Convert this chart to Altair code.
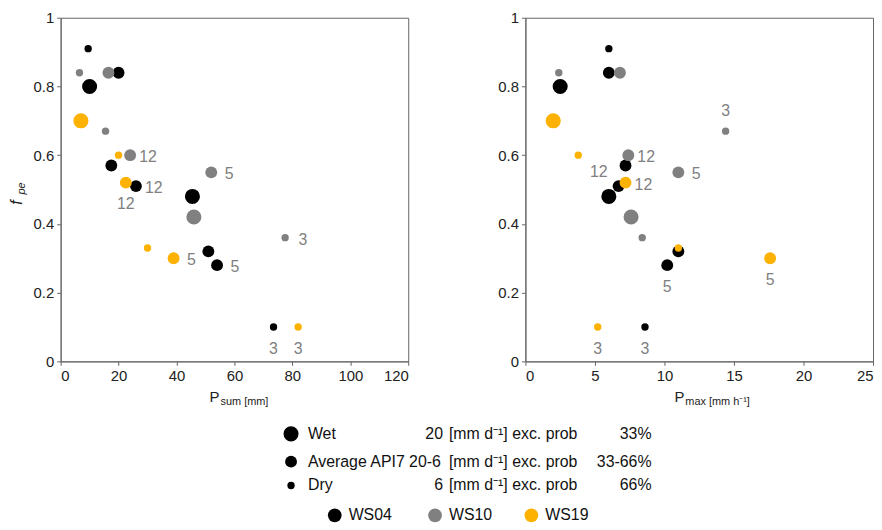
import altair as alt
import pandas as pd

# one row per event
station = ["WS04"] * 9 + ["WS10"] * 7 + ["WS19"] * 6
size_class = ["Dry", "Average", "Wet", "Average", "Average", "Wet", "Average", "Average", "Dry",
              "Dry", "Average", "Dry", "Average", "Average", "Wet", "Dry",
              "Wet", "Dry", "Average", "Dry", "Average", "Dry"]
fpe = [0.91, 0.84, 0.80, 0.57, 0.51, 0.48, 0.32, 0.28, 0.10,
       0.84, 0.84, 0.67, 0.60, 0.55, 0.42, 0.36,
       0.70, 0.60, 0.52, 0.33, 0.30, 0.10]
p_sum = [9.5, 20.0, 10.0, 17.5, 26.0, 45.5, 51.0, 54.0, 73.5,
         6.5, 16.5, 15.5, 24.0, 52.0, 46.0, 77.5,
         7.0, 20.0, 22.5, 30.0, 39.0, 82.0]
p_max = [6.0, 6.0, 2.5, 7.2, 6.7, 6.0, 11.0, 10.2, 8.6,
         2.4, 6.8, 14.4, 7.4, 11.0, 7.6, 8.4,
         2.0, 3.8, 7.2, 11.0, 17.6, 5.2]
# event labels and where they sit in each panel
label = ["", "", "", "", "12", "", "", "5", "3",
         "", "", "", "12", "5", "", "3",
         "", "", "12", "", "5", "3"]
place_sum = ["", "", "", "", "right", "", "", "right", "below",
             "", "", "", "right", "right", "", "right",
             "", "", "below", "", "right", "below"]
place_max = ["", "", "", "", "upleft", "", "", "below", "below",
             "", "", "above", "right", "right", "", "",
             "", "", "right", "", "below", "below"]
label_max = ["", "", "", "", "12", "", "", "5", "3",
             "", "", "3", "12", "5", "", "",
             "", "", "12", "", "5", "3"]

df = pd.DataFrame({"station": station, "cls": size_class, "fpe": fpe,
                   "psum": p_sum, "pmax": p_max, "label": label, "label_max": label_max,
                   "place_sum": place_sum, "place_max": place_max})

FONT = "Liberation Sans"
colors = alt.Scale(domain=["WS04", "WS10", "WS19"], range=["#000000", "#808080", "#FDB100"])
sizes = alt.Scale(domain=["Dry", "Average", "Wet"], range=[55, 230, 420])
offsets = {"right": (18, 2), "below": (0, 22), "upleft": (-20, -14), "above": (0, -20)}


def panel(xfield, xmax, xticks, sub, lab_field, place_field, ytitle):
    base = alt.Chart(df)
    pts = base.mark_circle(opacity=1).encode(
        x=alt.X(f"{xfield}:Q", scale=alt.Scale(domain=[0, xmax], nice=False),
                axis=alt.Axis(values=xticks, title=None, grid=False)),
        y=alt.Y("fpe:Q", scale=alt.Scale(domain=[0, 1], nice=False),
                axis=alt.Axis(values=[0, 0.2, 0.4, 0.6, 0.8, 1], title=None, grid=False,
                              labelExpr="datum.value == 0 ? '0' : datum.value == 1 ? '1' : format(datum.value, '.1f')")),
        color=alt.Color("station:N", scale=colors, legend=None),
        size=alt.Size("cls:N", scale=sizes, legend=None),
    )
    layers = [pts]
    for p, (dx, dy) in offsets.items():
        layers.append(base.transform_filter(alt.datum[place_field] == p).mark_text(
            dx=dx, dy=dy, fontSize=16, color="#808080", font=FONT).encode(
            x=f"{xfield}:Q", y="fpe:Q", text=f"{lab_field}:N"))
    layers.append(alt.Chart(pd.DataFrame({"t": ["P"]})).mark_text(
        fontSize=15, font=FONT, align="right", color="#222").encode(
        x=alt.value(160), y=alt.value(382), text="t:N"))
    layers.append(alt.Chart(pd.DataFrame({"t": [sub]})).mark_text(
        fontSize=11, font=FONT, align="left", color="#222").encode(
        x=alt.value(161), y=alt.value(387), text="t:N"))
    if ytitle:
        layers.append(alt.Chart(pd.DataFrame({"t": ["f"]})).mark_text(
            fontSize=16, font=FONT, fontStyle="italic", angle=270, color="#222").encode(
            x=alt.value(-44), y=alt.value(186), text="t:N"))
        layers.append(alt.Chart(pd.DataFrame({"t": ["pe"]})).mark_text(
            fontSize=11, font=FONT, fontStyle="italic", angle=270, color="#222").encode(
            x=alt.value(-39), y=alt.value(172), text="t:N"))
    return alt.layer(*layers).properties(width=350, height=346)


left = panel("psum", 120, [0, 20, 40, 60, 80, 100, 120], "sum [mm]", "label", "place_sum", True)
right = panel("pmax", 25, [0, 5, 10, 15, 20, 25], "max [mm h⁻¹]", "label_max", "place_max", False)
top = alt.hconcat(left, right, spacing=88)

# legend panel (coordinates in page pixels)
leg_cls = ["Wet", "Average", "Dry"]
leg_name = ["Wet", "Average API7 20-6", "Dry"]
leg_thr = ["20", "", "6"]
leg_pct = ["33%", "33-66%", "66%"]
leg_y = [435, 463, 487]
leg_rows = pd.DataFrame({"cls": leg_cls, "name": leg_name, "thr": leg_thr,
                         "pct": leg_pct, "y": leg_y, "unit": ["[mm d⁻¹] exc. prob"] * 3})
leg_st = pd.DataFrame({"station": ["WS04", "WS10", "WS19"], "x": [337, 438, 535], "y": [517] * 3})

lx = alt.Scale(domain=[61, 861], nice=False)
ly = alt.Scale(domain=[530, 410], nice=False)
X = lambda f: alt.X(f, scale=lx, axis=None)
Y = lambda f: alt.Y(f, scale=ly, axis=None)
lb = alt.Chart(leg_rows)
leg_sizes = alt.Scale(domain=["Dry", "Average", "Wet"], range=[40, 190, 420])
txt = dict(fontSize=16, font=FONT, color="#111")
legend = alt.layer(
    lb.mark_circle(color="black", opacity=1).encode(
        x=X("x:Q"), y=Y("y:Q"), size=alt.Size("cls:N", scale=leg_sizes, legend=None)
    ).transform_calculate(x="293"),
    lb.mark_text(align="left", **txt).encode(x=X("x:Q"), y=Y("y:Q"), text="name:N").transform_calculate(x="310"),
    lb.mark_text(align="right", **txt).encode(x=X("x:Q"), y=Y("y:Q"), text="thr:N").transform_calculate(x="446"),
    lb.mark_text(align="left", **txt).encode(x=X("x:Q"), y=Y("y:Q"), text="unit:N").transform_calculate(x="452"),
    lb.mark_text(align="right", **txt).encode(x=X("x:Q"), y=Y("y:Q"), text="pct:N").transform_calculate(x="656"),
    alt.Chart(leg_st).mark_circle(size=190, opacity=1).encode(
        x=X("x:Q"), y=Y("y:Q"), color=alt.Color("station:N", scale=colors, legend=None)),
    alt.Chart(leg_st).mark_text(align="left", dx=14, **txt).encode(
        x=X("x:Q"), y=Y("y:Q"), text="station:N"),
).properties(width=800, height=120, view=alt.ViewConfig(stroke="transparent"))

chart = alt.vconcat(top, legend, spacing=0).properties(
    padding={"left": 0, "top": 0, "right": 0, "bottom": 0}
).configure_view(
    stroke="#666", strokeWidth=1
).configure_axis(
    labelFont=FONT, labelFontSize=15, labelColor="#222", domainColor="#666",
    tickColor="#666", tickSize=4, labelPadding=3
)

chart.save("out.html", embed_options={"renderer": "svg", "actions": False})
